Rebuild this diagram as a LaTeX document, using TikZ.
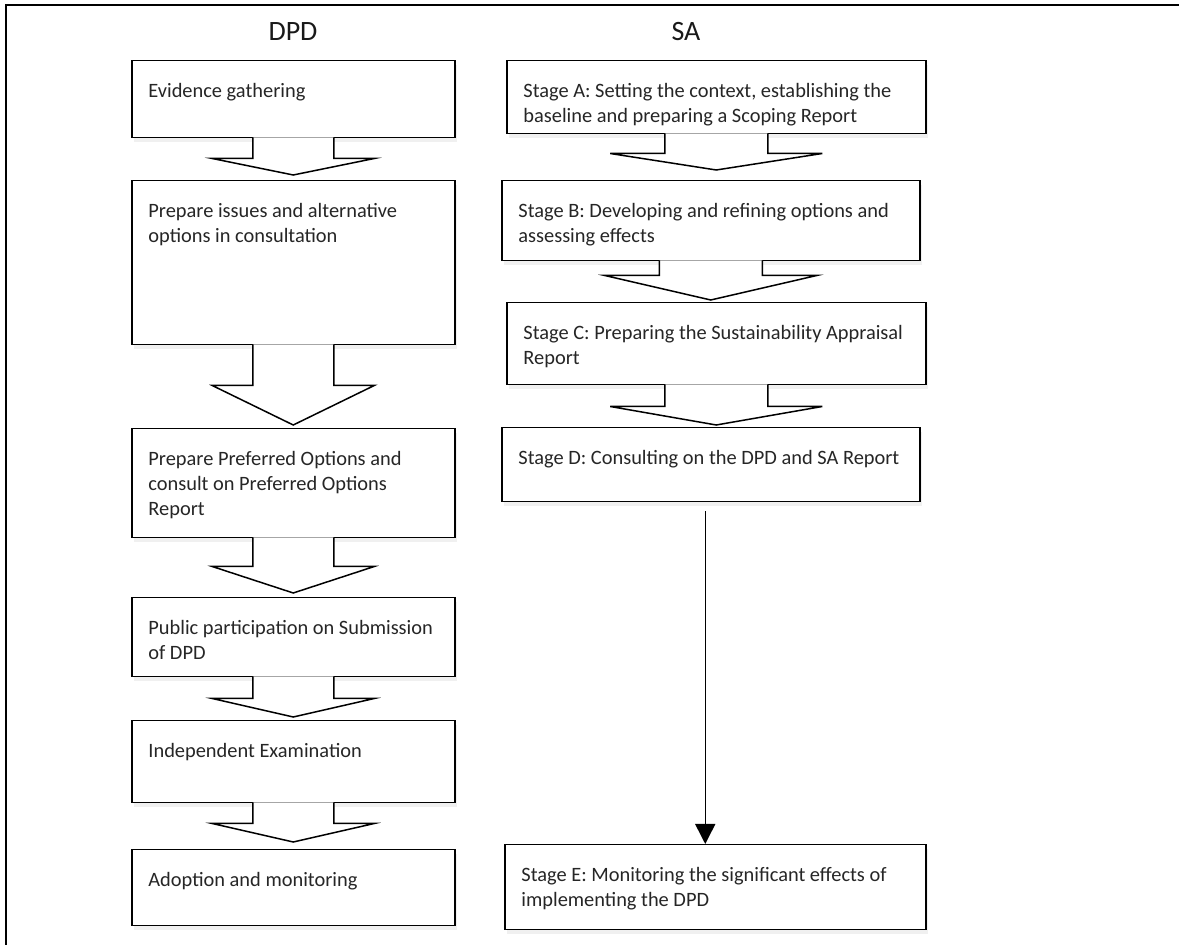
\documentclass[tikz,border=0pt]{standalone}
\usepackage{fontspec}
\setmainfont{Carlito}
\usetikzlibrary{calc,arrows.meta,shadows}

\tikzset{
  stagebox/.style={draw, fill=white, line width=.75pt, anchor=north west, inner sep=0pt,
    drop shadow={opacity=.12, shadow xshift=1pt, shadow yshift=-2pt}},
  boxsize/.style 2 args={minimum width=#1*.5pt, minimum height=#2*.5pt},
  txt/.style={anchor=north west, align=left, inner sep=0pt, xshift=8.5pt, yshift=-11.5pt,
    text=black!85, font=\fontsize{10.2}{12.6}\selectfont},
  head/.style={text=black!90, font=\fontsize{14}{17}\selectfont},
  blockarrow/.style={draw, fill=white, line width=.75pt, line join=miter},
}

\begin{document}
\begin{tikzpicture}[x=.5pt, y=-.5pt]
    \useasboundingbox (0,0) rectangle (1179,945);
    \draw[line width=1pt] (1179,5) -- (6,5) -- (6,945);
    \node[head] (hdpd) at (293,32) {DPD};
    \node[head] (hsa) at (686,32) {SA};
    % DPD column
    \node[stagebox, boxsize={323}{77}, label={[txt]north west:Evidence gathering}] (ev) at (131,60) {};
    \node[stagebox, boxsize={323}{164}, label={[txt]north west:Prepare issues and alternative\\options in consultation}] (iss) at (131,180) {};
    \node[stagebox, boxsize={323}{109}, label={[txt]north west:Prepare Preferred Options and\\consult on Preferred Options\\Report}] (pref) at (131,428) {};
    \node[stagebox, boxsize={323}{79}, label={[txt]north west:Public participation on Submission\\of DPD}] (pub) at (131,597) {};
    \node[stagebox, boxsize={323}{82}, label={[txt]north west:Independent Examination}] (exam) at (131,720) {};
    \node[stagebox, boxsize={323}{76}, label={[txt]north west:Adoption and monitoring}] (adopt) at (131,849) {};
    % SA column
    \node[stagebox, boxsize={419}{73}, label={[txt]north west:Stage A: Setting the context, establishing the\\baseline and preparing a Scoping Report}] (stA) at (506,60) {};
    \node[stagebox, boxsize={418}{80}, label={[txt]north west:Stage B: Developing and refining options and\\assessing effects}] (stB) at (501,180) {};
    \node[stagebox, boxsize={419}{82}, label={[txt]north west:Stage C: Preparing the Sustainability Appraisal\\Report}] (stC) at (506,302) {};
    \node[stagebox, boxsize={418}{74}, label={[txt]north west:Stage D: Consulting on the DPD and SA Report}] (stD) at (501,427) {};
    \node[stagebox, boxsize={421}{85}, label={[txt]north west:Stage E: Monitoring the significant effects of\\implementing the DPD}] (stE) at (504,844) {};
    % block arrows
    \foreach \a/\b/\w/\h/\s/\g in {ev/iss/40.5/81/20/5, iss/pref/40.5/81/40/3, pref/pub/40.5/81/28/4,
        pub/exam/40.5/81/21/3, exam/adopt/40.5/81/20/7,
        stA/stB/51.5/106/19/10, stB/stC/51.5/106/14/2, stC/stD/51.5/106/21/2}{
        \draw[blockarrow] ($(\a.south)+(-\w,-1)$) -- ($(\a.south)+(-\w,\s)$) -- ($(\a.south)+(-\h,\s)$)
            -- ($(\a.south |- \b.north)+(0,-\g)$) -- ($(\a.south)+(\h,\s)$) -- ($(\a.south)+(\w,\s)$)
            -- ($(\a.south)+(\w,-1)$);
    }
    \coordinate (dn) at ($(stD.south)+(-5.5,9)$);
    \draw[line width=.75pt, -{Triangle[length=10pt,width=10pt]}] (dn) -- (dn |- stE.north);
\end{tikzpicture}
\end{document}
